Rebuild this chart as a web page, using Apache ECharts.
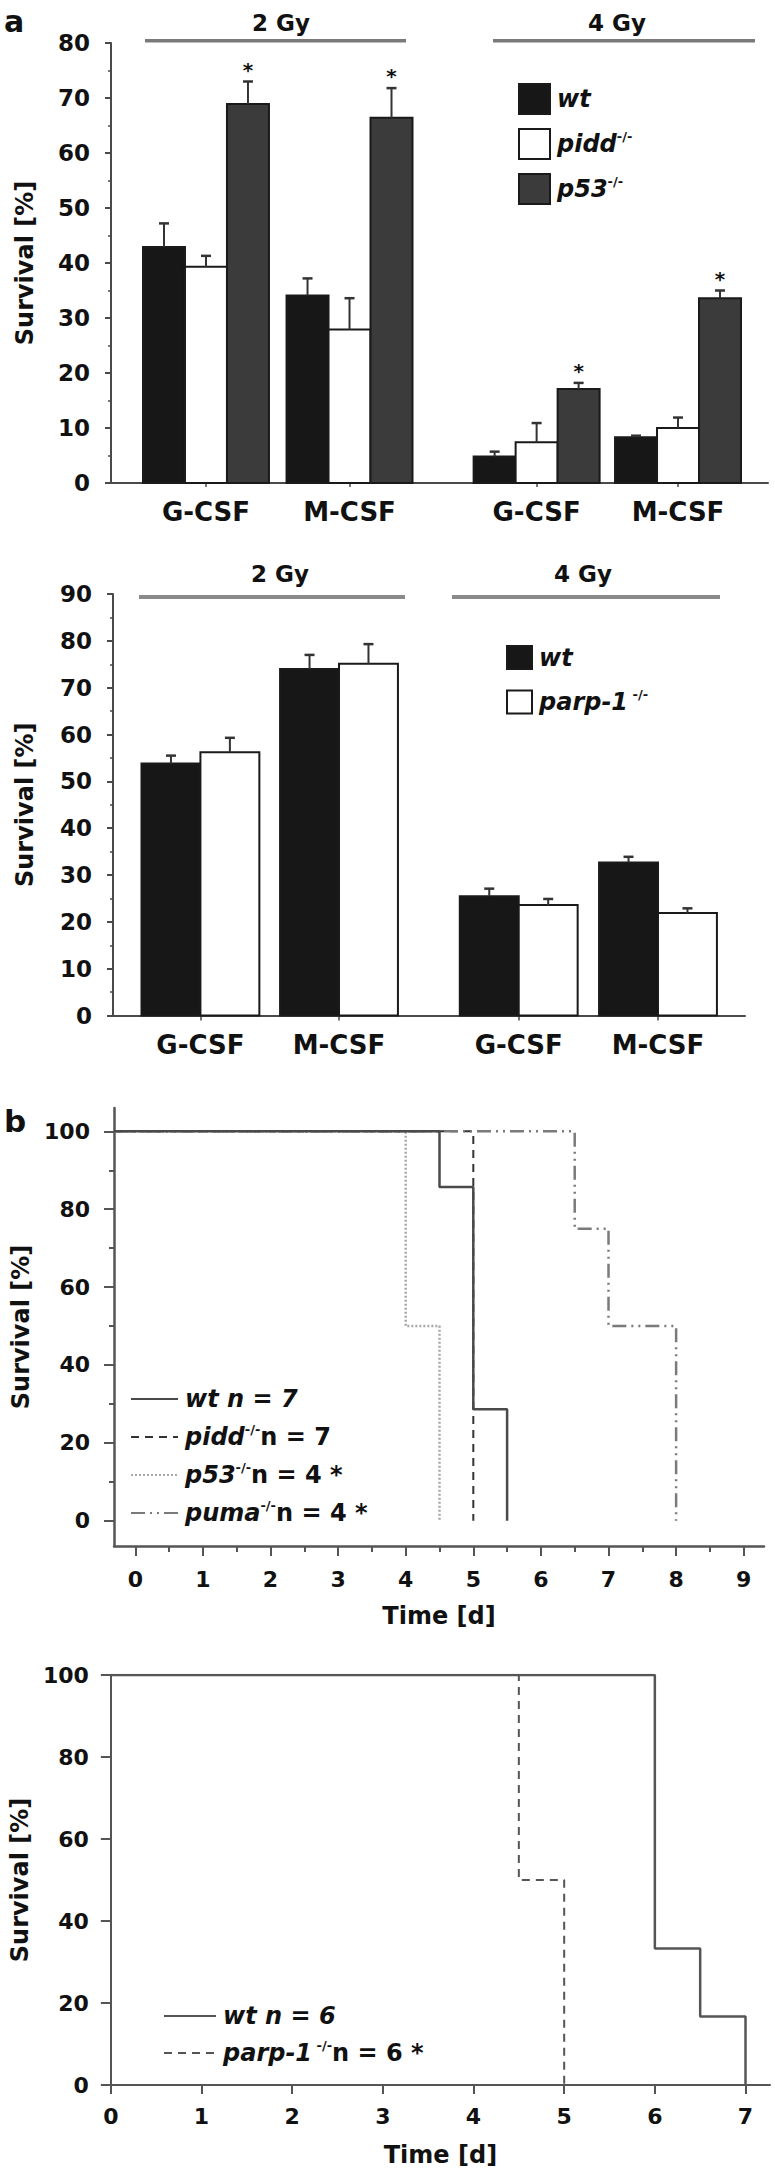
<!DOCTYPE html>
<html><head><meta charset="utf-8">
<script src="https://cdn.jsdelivr.net/npm/echarts@6/dist/echarts.min.js"></script>
<style>html,body{margin:0;padding:0;background:#fff}#c{width:775px;height:2172px}</style>
</head><body><div id="c"></div>
<script>
// ================= DATA =================
// Panel a (top): pidd / p53
const a1Categories = ['G-CSF', 'M-CSF', 'G-CSF', 'M-CSF'];
const a1Wt      = [42.9, 34.1, 4.8, 8.3];
const a1WtErr   = [4.3, 3.1, 0.9, 0.3];
const a1Pidd    = [39.3, 27.9, 7.4, 10.0];
const a1PiddErr = [2.0, 5.7, 3.5, 1.9];
const a1P53     = [68.9, 66.4, 17.1, 33.6];
const a1P53Err  = [4.1, 5.4, 1.1, 1.4];
const a1P53Sig  = [1, 1, 1, 1];
const a1YTicks  = [0, 10, 20, 30, 40, 50, 60, 70, 80];

// Panel a (bottom): parp-1
const a2Categories = ['G-CSF', 'M-CSF', 'G-CSF', 'M-CSF'];
const a2Wt      = [53.8, 74.0, 25.5, 32.7];
const a2WtErr   = [1.7, 3.0, 1.6, 1.2];
const a2Parp    = [56.2, 75.1, 23.6, 21.9];
const a2ParpErr = [3.1, 4.2, 1.3, 1.0];
const a2YTicks  = [0, 10, 20, 30, 40, 50, 60, 70, 80, 90];

const doseLabels = ['2 Gy', '4 Gy'];

// Panel b (top): survival curves
const b1XTicks = [0, 1, 2, 3, 4, 5, 6, 7, 8, 9];
const b1YTicks = [0, 20, 40, 60, 80, 100];
const b1WtT   = [0, 4.5, 5, 5.5];      const b1WtS   = [100, 85.7, 28.6, 0];
const b1PiddT = [0, 5];                const b1PiddS = [100, 0];
const b1P53T  = [0, 4, 4.5];           const b1P53S  = [100, 50, 0];
const b1PumaT = [0, 6.5, 7, 8];        const b1PumaS = [100, 75, 50, 0];

// Panel b (bottom)
const b2XTicks = [0, 1, 2, 3, 4, 5, 6, 7];
const b2YTicks = [0, 20, 40, 60, 80, 100];
const b2WtT   = [0, 6, 6.5, 7];        const b2WtS   = [100, 33.3, 16.7, 0];
const b2ParpT = [0, 4.5, 5];           const b2ParpS = [100, 50, 0];

// ================= LAYOUT / STYLE =================
const FF = 'DejaVu Sans';
const INK = '#111';
const AX = '#4a4a4a';
const a1Slots = [0.665, 1.67, 2.98, 3.97];   // category slot positions on panel-a1 x scale
const a2Slots = [0.629, 1.626, 2.919, 3.921];
const a1BarW = 0.294, a2BarW = 0.424;
const b1XMin = -0.315;

function nearestIdx(arr, v) { let b = 0; for (let i = 1; i < arr.length; i++) if (Math.abs(arr[i] - v) < Math.abs(arr[b] - v)) b = i; return b; }
const lbl = (size, extra) => Object.assign({ color: INK, fontFamily: FF, fontWeight: 'bold', fontSize: size }, extra || {});

function catXAxis(grid, slots, cats, max, tickLen) {
  return {
    type: 'value', gridIndex: grid, min: 0, max: max,
    axisLine: { show: true, onZero: false, lineStyle: { color: AX, width: 2 } },
    axisTick: { show: true, customValues: slots, length: tickLen, lineStyle: { color: AX, width: 1.5 } },
    axisLabel: lbl(26, { show: true, customValues: slots, margin: 16, formatter: v => cats[nearestIdx(slots, v)] }),
    splitLine: { show: false }
  };
}
function barYAxis(grid, max, ticks, nameGap) {
  return {
    type: 'value', gridIndex: grid, min: 0, max: max, interval: 10,
    axisLine: { show: true, lineStyle: { color: AX, width: 2 } },
    axisTick: { show: true, length: 6, lineStyle: { color: AX, width: 2 } },
    minorTick: { show: true, splitNumber: 2, length: 3, lineStyle: { color: AX, width: 1.5 } },
    axisLabel: lbl(23, { margin: 21, customValues: ticks }),
    splitLine: { show: false }, minorSplitLine: { show: false },
    name: 'Survival [%]', nameLocation: 'middle', nameGap: nameGap, nameTextStyle: lbl(24)
  };
}
function barSeries(name, axis, slots, offset, bw, values, errs, fill, sig) {
  return {
    type: 'custom', name: name, xAxisIndex: axis, yAxisIndex: axis, clip: false,
    itemStyle: { color: fill, borderColor: '#1a1a1a', borderWidth: 2 },
    data: values.map((v, i) => [i, v, errs[i], sig ? sig[i] : 0]),
    renderItem: function (params, api) {
      const i = api.value(0), v = api.value(1), e = api.value(2), s = api.value(3);
      const xc = slots[i] + offset;
      const p0 = api.coord([xc, 0]), p1 = api.coord([xc, v]), pe = api.coord([xc, v + e]);
      const w = api.size([bw, 0])[0];
      const ch = [
        { type: 'rect', shape: { x: p0[0] - w / 2, y: p1[1], width: w, height: p0[1] - p1[1] },
          style: { fill: fill, stroke: '#1a1a1a', lineWidth: 2 } },
        { type: 'line', shape: { x1: p1[0], y1: p1[1], x2: pe[0], y2: pe[1] }, style: { stroke: '#333', lineWidth: 2 } },
        { type: 'line', shape: { x1: pe[0] - 5, y1: pe[1], x2: pe[0] + 5, y2: pe[1] }, style: { stroke: '#333', lineWidth: 2.5 } }
      ];
      if (s) ch.push({ type: 'text', x: pe[0], y: pe[1] - 12,
        style: { text: '*', font: 'bold 20px "DejaVu Sans"', align: 'center', verticalAlign: 'middle', fill: INK } });
      return { type: 'group', children: ch };
    }
  };
}
function pts(t, s, startX) {
  const d = t.map((x, i) => [x, s[i]]);
  if (startX !== undefined) d.unshift([startX, s[0]]);
  return d;
}
function kmSeries(name, axis, data, color, width, type) {
  return { type: 'line', name: name, xAxisIndex: axis, yAxisIndex: axis, step: 'end', symbol: 'none', showSymbol: false,
    data: data, lineStyle: { color: color, width: width, type: type }, itemStyle: { color: color }, emphasis: { disabled: true } };
}
const richLeg = {
  i: { fontFamily: FF, fontWeight: 'bold', fontStyle: 'italic', fontSize: 24, color: INK, lineHeight: 28 },
  s: { fontFamily: FF, fontWeight: 'bold', fontSize: 13, color: INK, lineHeight: 13, verticalAlign: 'top' },
  n: { fontFamily: FF, fontWeight: 'bold', fontSize: 24, color: INK, lineHeight: 28 }
};
const legText = {
  a1wt: '{i|wt}', a1pidd: '{i|pidd}{s|-/-}', a1p53: '{i|p53}{s|-/-}',
  a2wt: '{i|wt}', a2parp: '{i|parp-1}{s| -/-}',
  b1wt: '{i|wt n = 7}', b1pidd: '{i|pidd}{s|-/-}{n|n = 7}', b1p53: '{i|p53}{s|-/-}{n|n = 4 *}', b1puma: '{i|puma}{s|-/-}{n|n = 4 *}',
  b2wt: '{i|wt n = 6}', b2parp: '{i|parp-1}{s| -/-}{n|n = 6 *}'
};
function legend(data, left, top, iw, ih, gap, icon) {
  const l = { data: data, orient: 'vertical', left: left, top: top, padding: 0, itemWidth: iw, itemHeight: ih, itemGap: gap,
    selectedMode: false, formatter: n => legText[n], textStyle: { rich: richLeg, fontSize: 24, padding: [0, 0, 0, 2] } };
  if (icon) l.icon = icon;
  else l.itemStyle = { opacity: 0, color: 'transparent', borderColor: 'transparent', borderWidth: 0 };
  return l;
}

const chart = echarts.init(document.getElementById('c'), null, { renderer: 'svg', width: 775, height: 2172 });

const option = {
  animation: false,
  backgroundColor: '#fff',
  grid: [
    { left: 111, top: 43, width: 657, height: 440 },
    { left: 113, top: 594, width: 632, height: 421.6 },
    { left: 114, top: 1108, width: 650, height: 438 },
    { left: 109, top: 1675, width: 661, height: 410 }
  ],
  xAxis: [
    catXAxis(0, a1Slots, a1Categories, 4.6, 4),
    catXAxis(1, a2Slots, a2Categories, 4.547, 5),
    { type: 'value', gridIndex: 2, min: b1XMin, max: 9.3,
      axisLine: { show: true, onZero: false, lineStyle: { color: '#555', width: 2.5 } },
      axisTick: { show: true, customValues: b1XTicks, length: 10, lineStyle: { color: '#555', width: 2 } },
      axisLabel: lbl(22, { customValues: b1XTicks, margin: 22 }),
      splitLine: { show: false },
      name: 'Time [d]', nameLocation: 'middle', nameGap: 58, nameTextStyle: lbl(24) },
    { type: 'value', gridIndex: 2, position: 'bottom', min: b1XMin, max: 9.3,
      axisLine: { show: false, onZero: false },
      axisTick: { show: true, customValues: b1XTicks.slice(0, -1).map(v => v + 0.5), length: 6, lineStyle: { color: '#555', width: 2 } },
      axisLabel: { show: false }, splitLine: { show: false } },
    { type: 'value', gridIndex: 3, min: 0, max: 7.27,
      axisLine: { show: true, onZero: false, lineStyle: { color: '#555', width: 2 } },
      axisTick: { show: true, customValues: b2XTicks, length: 9, lineStyle: { color: '#555', width: 2 } },
      axisLabel: lbl(22, { customValues: b2XTicks, margin: 20 }),
      splitLine: { show: false },
      name: 'Time [d]', nameLocation: 'middle', nameGap: 58, nameTextStyle: lbl(24) }
  ],
  yAxis: [
    barYAxis(0, 80, a1YTicks, 74),
    barYAxis(1, 90, a2YTicks, 76),
    { type: 'value', gridIndex: 2, min: -6.5, max: 106,
      axisLine: { show: true, onZero: false, lineStyle: { color: '#555', width: 2.5 } },
      axisTick: { show: true, customValues: b1YTicks, length: 10, lineStyle: { color: '#555', width: 2 } },
      axisLabel: lbl(22, { customValues: b1YTicks, margin: 24 }),
      splitLine: { show: false },
      name: 'Survival [%]', nameLocation: 'middle', nameGap: 77, nameTextStyle: lbl(24) },
    { type: 'value', gridIndex: 2, position: 'left', min: -6.5, max: 106,
      axisLine: { show: false, onZero: false },
      axisTick: { show: true, customValues: b1YTicks.slice(0, -1).map(v => v + 10), length: 5, lineStyle: { color: '#555', width: 2 } },
      axisLabel: { show: false }, splitLine: { show: false } },
    { type: 'value', gridIndex: 3, min: 0, max: 100,
      axisLine: { show: true, onZero: false, lineStyle: { color: '#555', width: 2 } },
      axisTick: { show: true, customValues: b2YTicks, length: 10, lineStyle: { color: '#555', width: 2 } },
      axisLabel: lbl(22, { customValues: b2YTicks, margin: 22 }),
      splitLine: { show: false },
      name: 'Survival [%]', nameLocation: 'middle', nameGap: 78, nameTextStyle: lbl(24) }
  ],
  legend: [
    legend(['a1wt', 'a1pidd', 'a1p53'], 518, 83, 31, 30, 13, 'rect'),
    legend(['a2wt', 'a2parp'], 506, 645, 25, 23, 18, 'rect'),
    legend(['b1wt', 'b1pidd', 'b1p53', 'b1puma'], 130, 1387, 47, 28, 12),
    legend(['b2wt', 'b2parp'], 163, 2004, 52, 28, 11)
  ],
  series: [
    barSeries('a1wt', 0, a1Slots, -a1BarW, a1BarW, a1Wt, a1WtErr, '#171717'),
    barSeries('a1pidd', 0, a1Slots, 0, a1BarW, a1Pidd, a1PiddErr, '#ffffff'),
    barSeries('a1p53', 0, a1Slots, a1BarW, a1BarW, a1P53, a1P53Err, '#3b3b3b', a1P53Sig),
    barSeries('a2wt', 1, a2Slots, -a2BarW / 2, a2BarW, a2Wt, a2WtErr, '#171717'),
    barSeries('a2parp', 1, a2Slots, a2BarW / 2, a2BarW, a2Parp, a2ParpErr, '#ffffff'),
    kmSeries('b1p53', 2, pts(b1P53T, b1P53S, b1XMin), '#a8a8a8', 2.5, [2, 2]),
    kmSeries('b1pidd', 2, pts(b1PiddT, b1PiddS, b1XMin), '#333333', 2, [8, 6]),
    kmSeries('b1puma', 2, pts(b1PumaT, b1PumaS, b1XMin), '#7a7a7a', 2.5, [14, 5, 2, 5, 2, 5]),
    kmSeries('b1wt', 2, pts(b1WtT, b1WtS, b1XMin), '#4a4a4a', 2.5, 'solid'),
    kmSeries('b2parp', 4, pts(b2ParpT, b2ParpS), '#555555', 2, [8, 6]),
    kmSeries('b2wt', 4, pts(b2WtT, b2WtS), '#555555', 2.5, 'solid')
  ],
  graphic: [
    { type: 'text', x: 4, y: 21, style: { text: 'a', font: 'bold 30px "DejaVu Sans"', fill: INK, align: 'left', verticalAlign: 'middle' } },
    { type: 'text', x: 4, y: 1121, style: { text: 'b', font: 'bold 31px "DejaVu Sans"', fill: INK, align: 'left', verticalAlign: 'middle' } },
    { type: 'text', x: 281, y: 22.5, style: { text: doseLabels[0], font: 'bold 23px "DejaVu Sans"', fill: INK, align: 'center', verticalAlign: 'middle' } },
    { type: 'text', x: 617, y: 22.5, style: { text: doseLabels[1], font: 'bold 23px "DejaVu Sans"', fill: INK, align: 'center', verticalAlign: 'middle' } },
    { type: 'line', shape: { x1: 145, y1: 40.7, x2: 406, y2: 40.7 }, style: { stroke: '#7a7a7a', lineWidth: 3.5 } },
    { type: 'line', shape: { x1: 493, y1: 40.7, x2: 755, y2: 40.7 }, style: { stroke: '#7a7a7a', lineWidth: 3.5 } },
    { type: 'text', x: 280, y: 574, style: { text: doseLabels[0], font: 'bold 23px "DejaVu Sans"', fill: INK, align: 'center', verticalAlign: 'middle' } },
    { type: 'text', x: 583, y: 574, style: { text: doseLabels[1], font: 'bold 23px "DejaVu Sans"', fill: INK, align: 'center', verticalAlign: 'middle' } },
    { type: 'line', shape: { x1: 139, y1: 597, x2: 405, y2: 597 }, style: { stroke: '#8a8a8a', lineWidth: 4 } },
    { type: 'line', shape: { x1: 452, y1: 597, x2: 720, y2: 597 }, style: { stroke: '#8a8a8a', lineWidth: 4 } }
  ]
};
chart.setOption(option);
</script>
</body></html>
